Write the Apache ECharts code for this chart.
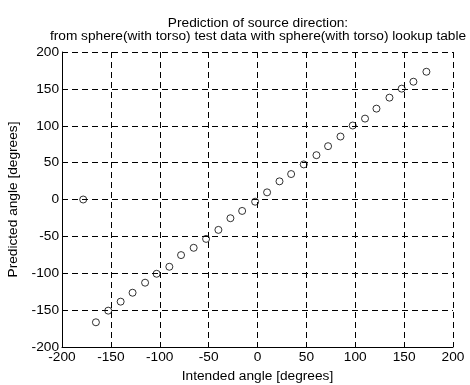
<!DOCTYPE html>
<html>
<head>
<meta charset="utf-8">
<script src="https://cdn.jsdelivr.net/npm/echarts@6/dist/echarts.min.js"></script>
<style>
  html, body { margin: 0; padding: 0; background: #fff; }
  #chart { width: 470px; height: 385px; }
</style>
</head>
<body>
<div id="chart"></div>
<script>
// Intended source azimuth vs. azimuth predicted from the lookup table
const intendedAngle = [-178.3, -165.3, -152.7, -140, -127.8, -115, -103.2, -90.2, -78.2, -65.3,
  -52.6, -40, -27.7, -15.7, -2.4, 9.8, 22.5, 34.4, 47.3, 60.3,
  72.2, 84.9, 97.4, 110, 121.7, 135, 147.5, 159.5, 172.8];
const predictedAngle = [0, -166.5, -150.7, -138.5, -126.4, -112.8, -100.7, -91.2, -75.4, -65.5,
  -53.4, -41.2, -25.4, -15.5, -3, 9.7, 24.6, 34.5, 47.6, 60.1,
  72.3, 85.4, 100.3, 109.7, 123.2, 138.1, 150.3, 159.7, 173.2];

const titleLines = ['Prediction of source direction:',
  'from sphere(with torso) test data with sphere(with torso) lookup table'];
const xLabel = 'Intended angle [degrees]';
const yLabel = 'Predicted angle [degrees]';
const axisMin = -200, axisMax = 200, axisStep = 50;

const FONT = '"Liberation Sans", Arial, sans-serif';
const FONT_SIZE = 13.7;

function valueAxis(name, gap) {
  return {
    type: 'value',
    min: axisMin,
    max: axisMax,
    interval: axisStep,
    name: name,
    nameLocation: 'middle',
    nameGap: gap,
    nameTextStyle: { color: '#000', fontFamily: FONT, fontSize: FONT_SIZE },
    axisLine: { show: true, onZero: false, lineStyle: { color: '#000', width: 1 } },
    axisTick: { show: true, inside: true, length: 4, lineStyle: { color: '#000' } },
    axisLabel: { color: '#000', fontFamily: FONT, fontSize: FONT_SIZE, margin: 3 },
    splitLine: {
      show: true,
      lineStyle: { color: '#000', width: 1, type: [6, 4] }
    }
  };
}

const chart = echarts.init(document.getElementById('chart'), null, { renderer: 'canvas' });
chart.setOption({
  animation: false,
  backgroundColor: '#fff',
  title: {
    text: titleLines.join('\n'),
    left: 253,
    top: 12,
    textAlign: 'center',
    textStyle: { color: '#000', fontFamily: FONT, fontSize: FONT_SIZE, fontWeight: 'normal', lineHeight: 13 }
  },
  grid: { left: 62, right: 17, top: 52, bottom: 38, outerBoundsMode: 'none', containLabel: false },
  xAxis: valueAxis(xLabel, 22),
  yAxis: valueAxis(yLabel, 37),
  series: [{
    type: 'scatter',
    data: intendedAngle.map((x, i) => [x, predictedAngle[i]]),
    symbol: 'circle',
    symbolSize: 7,
    itemStyle: { color: 'rgba(0,0,0,0)', borderColor: '#000', borderWidth: 1 }
  }]
});
</script>
</body>
</html>
